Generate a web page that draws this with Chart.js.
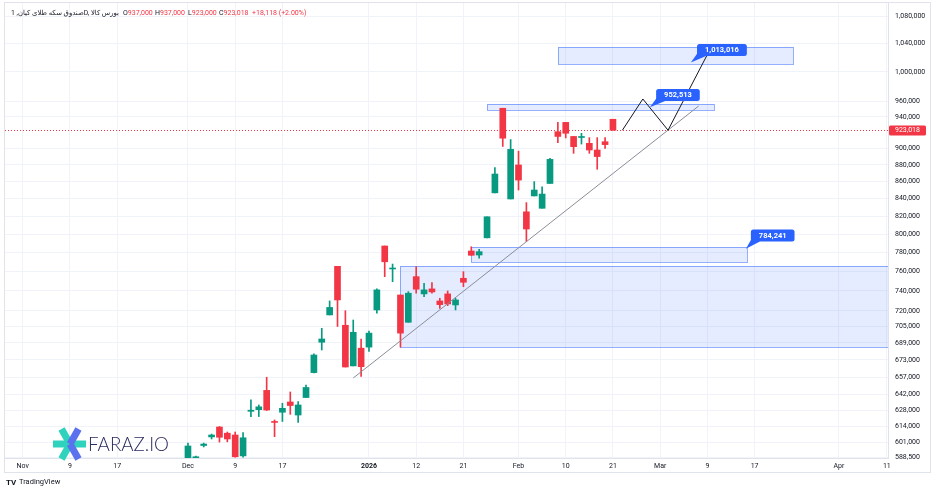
<!DOCTYPE html>
<html>
<head>
<meta charset="utf-8">
<script src="https://cdn.jsdelivr.net/npm/chart.js@4.4.1/dist/chart.umd.min.js"></script>
<style>html,body{margin:0;padding:0;background:#fff;}canvas{display:block;}</style>
</head>
<body>
<canvas id="c" width="936" height="492"></canvas>
<script>
// ---- data (daily candles, index = trading-day position) ----
const dayIndex = [0,1,2,3,4,5,6,7,8,9,10,11,12,13,14,15,16,17,18,19,20,21,22,23,24,25,26,27,28,29,30,31,32,33,34,35,36,37,38,39,40,41,42,43,44,45,46,47,48,49,50,51,52,53,54];
const openPrice = [586500,588200,598200,605300,613600,608400,606900,589700,627000,628400,645300,618300,626200,635100,623800,639000,661300,689500,715900,765400,705800,667400,683900,684900,720800,787100,762600,735800,708700,754600,736900,742000,729800,736900,725800,752900,781700,777400,796000,846800,951300,839700,879900,825000,843200,829000,857800,921100,933000,915100,913800,906500,898200,908500,937000];
const highPrice = [600200,589500,600200,607700,614000,609400,609400,609000,636900,632500,657100,619600,634000,643900,635400,650100,678500,702800,729800,765400,720100,710900,692400,700200,742000,787100,767800,735800,739200,765000,747800,748400,732500,739900,732500,759800,786300,783500,819400,876800,951300,911200,896800,835500,860000,853900,888000,933000,933000,915100,919100,913600,913600,913600,937000];
const lowPrice = [585000,587500,597000,603600,601000,601200,588600,588600,622300,622500,627700,605500,618300,624400,617600,639000,661000,682200,715900,704600,666400,667400,657800,680800,717600,754600,749400,684900,708700,737600,734100,737600,722400,725100,720800,744300,777100,774100,796000,846800,902600,839700,850100,792100,843200,829000,857800,907300,913200,894100,905600,894100,874700,900300,923000];
const closePrice = [597800,589000,599400,606900,605000,603600,589000,604600,628000,630900,628100,617500,629600,632000,632500,647900,677500,692600,723300,730800,666400,699000,666700,698200,741000,770200,763000,698200,737600,741700,741000,738900,726100,726800,730800,748800,777100,781000,819400,869000,912900,899000,861800,805700,850100,845400,886700,915100,919100,902300,914600,898200,890100,904900,923018];

const xTickPos = [-21,-15,-9,0,6,12,23,29,35,42,48,54,60,66,72,82.7,88.8];
const xTickLabels = ['Nov','9','17','Dec','9','17','2026','12','21','Feb','10','21','Mar','9','17','Apr','11'];
const yTickValues = [1080000,1040000,1000000,960000,940000,900000,880000,860000,840000,820000,800000,780000,760000,740000,720000,705000,689000,673000,657000,642000,628000,614000,601000,588500];

const lastPrice = 923018;
const prevClose = 904900;

// drawings (in index / price units)
const boxFromIdx = [27, 36, 38, 47];
const boxToIdx   = [92, 71, 66.8, 76.9];
const boxHigh    = [765700, 786000, 957000, 1034500];
const boxLow     = [685000, 770000, 949000, 1010500];

const trendIdx   = [21.0, 64.9];
const trendPrice = [656400, 954300];

const pathIdx    = [55.2, 57.8, 61.0, 65.9];
const pathPrice  = [923018, 963500, 923018, 1022200];

const calloutText      = ['1,013,016', '952,513', '784,241'];
const calloutAnchorIdx = [63.9, 58.7, 70.9];
const calloutAnchorPx  = [1013016, 952513, 784241];
const calloutLabelIdx  = [67.85, 62.26, 74.3];
const calloutLabelPx   = [1030700, 968800, 798600];

// ---- styling ----
const UP = '#089981', DOWN = '#f23645';
const FONT = 'Roboto, "DejaVu Sans", sans-serif';
const fmt = v => Number(v).toLocaleString('en-US');
const candleColor = openPrice.map((o, i) => closePrice[i] >= o ? UP : DOWN);

function rr(ctx, x, y, w, h, r) {
  ctx.beginPath();
  ctx.moveTo(x + r, y);
  ctx.lineTo(x + w - r, y); ctx.quadraticCurveTo(x + w, y, x + w, y + r);
  ctx.lineTo(x + w, y + h - r); ctx.quadraticCurveTo(x + w, y + h, x + w - r, y + h);
  ctx.lineTo(x + r, y + h); ctx.quadraticCurveTo(x, y + h, x, y + h - r);
  ctx.lineTo(x, y + r); ctx.quadraticCurveTo(x, y, x + r, y);
  ctx.closePath();
}

const overlay = {
  id: 'overlay',
  beforeDatasetsDraw(chart) {
    const {ctx, chartArea: a, scales: {x, y}} = chart;
    ctx.save();
    ctx.beginPath(); ctx.rect(a.left, a.top, a.right - a.left, a.bottom - a.top); ctx.clip();
    for (let k = 0; k < boxFromIdx.length; k++) {
      const x0 = Math.round(x.getPixelForValue(boxFromIdx[k])), x1 = Math.round(x.getPixelForValue(boxToIdx[k]));
      const y0 = Math.round(y.getPixelForValue(boxHigh[k])), y1 = Math.round(y.getPixelForValue(boxLow[k]));
      ctx.fillStyle = 'rgba(41,98,255,0.12)';
      ctx.fillRect(x0, y0, x1 - x0, y1 - y0);
      ctx.strokeStyle = 'rgba(41,98,255,0.5)';
      ctx.lineWidth = 1;
      ctx.strokeRect(x0 + 0.5, y0 + 0.5, x1 - x0, y1 - y0);
    }
    ctx.restore();
  },
  afterDatasetsDraw(chart) {
    const {ctx, chartArea: a, scales: {x, y}} = chart;
    ctx.save();
    ctx.beginPath(); ctx.rect(a.left, a.top, a.right - a.left, a.bottom - a.top); ctx.clip();
    const py = Math.round(y.getPixelForValue(lastPrice)) + 0.5;
    ctx.strokeStyle = '#f23645'; ctx.lineWidth = 1; ctx.setLineDash([1, 2]);
    ctx.beginPath(); ctx.moveTo(a.left, py); ctx.lineTo(a.right, py); ctx.stroke();
    ctx.setLineDash([]);
    ctx.strokeStyle = '#8a8d96'; ctx.lineWidth = 1;
    ctx.beginPath();
    ctx.moveTo(x.getPixelForValue(trendIdx[0]), y.getPixelForValue(trendPrice[0]));
    ctx.lineTo(x.getPixelForValue(trendIdx[1]), y.getPixelForValue(trendPrice[1]));
    ctx.stroke();
    ctx.strokeStyle = '#131722'; ctx.lineWidth = 1;
    ctx.beginPath();
    pathIdx.forEach((v, k) => {
      const px = x.getPixelForValue(v), pyy = y.getPixelForValue(pathPrice[k]);
      if (k === 0) ctx.moveTo(px, pyy); else ctx.lineTo(px, pyy);
    });
    ctx.stroke();
    ctx.font = 'bold 7.5px ' + FONT;
    calloutText.forEach((t, k) => {
      const ax = x.getPixelForValue(calloutAnchorIdx[k]), ay = y.getPixelForValue(calloutAnchorPx[k]);
      const cx = x.getPixelForValue(calloutLabelIdx[k]), cy = y.getPixelForValue(calloutLabelPx[k]);
      const w = ctx.measureText(t).width + 16, h = 12;
      const l = cx - w / 2, tp = cy - h / 2;
      ctx.fillStyle = '#2962ff';
      ctx.beginPath(); ctx.moveTo(l + 2, tp + h - 5); ctx.lineTo(l + 9, tp + h); ctx.lineTo(ax, ay); ctx.closePath(); ctx.fill();
      rr(ctx, l, tp, w, h, 2.5); ctx.fill();
      ctx.fillStyle = '#ffffff'; ctx.textAlign = 'center'; ctx.textBaseline = 'middle';
      ctx.fillText(t, cx, cy + 0.5);
    });
    ctx.restore();
  },
  afterDraw(chart) {
    const {ctx, chartArea: a, scales: {y}} = chart;
    ctx.save();
    const py = Math.round(y.getPixelForValue(lastPrice));
    ctx.fillStyle = '#f23645';
    rr(ctx, a.right + 1, py - 4.5, 37, 10, 1.5); ctx.fill();
    ctx.fillStyle = '#ffffff'; ctx.font = '7px ' + FONT; ctx.textAlign = 'left'; ctx.textBaseline = 'middle';
    ctx.fillText(fmt(lastPrice), a.right + 7, py + 0.5);

    // header legend: title pieces laid out left to right in visual order, fitted to 11..120
    ctx.textBaseline = 'middle';
    ctx.fillStyle = '#131722';
    ctx.font = '7px ' + FONT;
    const pA = 'صندوق سکه طلای کیان, 1', pB = 'D, ', pC = 'بورس کالا';
    const wA = ctx.measureText(pA).width, wB = ctx.measureText(pB).width, wC = ctx.measureText(pC).width;
    const total = wA + wB + wC;
    const sx = Math.min(1, 108 / total);
    ctx.save();
    ctx.translate(11, 13); ctx.scale(sx, 1);
    ctx.textAlign = 'left';
    ctx.direction = 'rtl'; ctx.textAlign = 'right';
    ctx.fillText(pA, wA, 0);
    ctx.direction = 'ltr'; ctx.textAlign = 'left';
    ctx.fillText(pB, wA, 0);
    ctx.fillText(pC, wA + wB, 0);
    ctx.restore();

    ctx.textAlign = 'left'; ctx.direction = 'ltr';
    const items = [['O', fmt(openPrice[54]), 123], ['H', fmt(highPrice[54]), 155], ['L', fmt(lowPrice[54]), 188], ['C', fmt(closePrice[54]), 219]];
    items.forEach(([k, v, px]) => {
      ctx.fillStyle = '#131722'; ctx.fillText(k, px, 13);
      const kw = ctx.measureText(k).width;
      ctx.fillStyle = DOWN; ctx.fillText(v, px + kw, 13);
    });
    const ch = closePrice[54] - prevClose;
    ctx.fillStyle = DOWN;
    ctx.fillText('+' + fmt(ch) + ' (+' + (ch / prevClose * 100).toFixed(2) + '%)', 252, 13);

    // watermark logo FARAZ.IO
    const cx = 70, cy = 444;
    ctx.lineCap = 'butt';
    ctx.lineWidth = 7;
    ctx.strokeStyle = '#2fd3bd';
    ctx.beginPath(); ctx.moveTo(53, cy); ctx.lineTo(86, cy); ctx.stroke();
    ctx.beginPath(); ctx.moveTo(cx, cy); ctx.lineTo(cx - 8.5, cy + 15); ctx.stroke();
    ctx.beginPath(); ctx.moveTo(cx, cy); ctx.lineTo(cx - 8.5, cy - 15); ctx.stroke();
    ctx.strokeStyle = '#5b72ee';
    ctx.beginPath(); ctx.moveTo(cx, cy); ctx.lineTo(cx + 8.5, cy - 15); ctx.stroke();
    ctx.beginPath(); ctx.moveTo(cx, cy); ctx.lineTo(cx + 8.5, cy + 15); ctx.stroke();
    ctx.fillStyle = '#2b2a5c';
    ctx.font = '300 19px Lato, ' + FONT;
    ctx.textAlign = 'left'; ctx.textBaseline = 'middle';
    ctx.fillText('FARAZ.IO', 88, 445, 81);

    ctx.strokeStyle = '#e0e3eb'; ctx.lineWidth = 1;
    ctx.strokeRect(4.5, 2.5, 926, 470);

    ctx.fillStyle = '#131722';
    ctx.font = 'bold 8px ' + FONT;
    ctx.textAlign = 'left'; ctx.textBaseline = 'middle';
    ctx.fillText('TV', 6, 482.5);
    ctx.font = '7.5px ' + FONT;
    ctx.fillText('TradingView', 19, 482.5);
    ctx.restore();
  }
};

new Chart(document.getElementById('c'), {
  type: 'bar',
  data: {
    datasets: [
      { label: 'body', data: dayIndex.map((d, i) => ({x: d, y: [openPrice[i], closePrice[i]]})),
        backgroundColor: candleColor, barThickness: 6, minBarLength: 1, grouped: false, borderWidth: 0 },
      { label: 'wick', data: dayIndex.map((d, i) => ({x: d, y: [lowPrice[i], highPrice[i]]})),
        backgroundColor: candleColor, barThickness: 1, minBarLength: 1, grouped: false, borderWidth: 0 }
    ]
  },
  options: {
    responsive: false,
    animation: false,
    events: [],
    layout: {padding: {left: 5, top: 3, right: 6, bottom: 20}},
    plugins: {legend: {display: false}, tooltip: {enabled: false}},
    scales: {
      x: {
        type: 'linear', min: -23.25, max: 88.95, offset: false, bounds: 'data',
        grid: {color: '#f0f3fa', drawTicks: false, offset: false},
        border: {color: '#e0e3eb'},
        ticks: {
          autoSkip: false, maxRotation: 0, minRotation: 0, padding: 4, color: '#131722',
          font: c => ({family: FONT, size: 7, weight: (c.tick && c.tick.label === '2026') ? 'bold' : 'normal'}),
          callback: (v, i) => xTickLabels[i]
        },
        afterBuildTicks: s => { s.ticks = xTickPos.map(v => ({value: v})); },
        afterFit: s => { s.height = 14; s.paddingLeft = 0; s.paddingRight = 0; s.paddingTop = 0; s.paddingBottom = 0; }
      },
      y: {
        type: 'logarithmic', position: 'right', min: 588000, max: 1099500, bounds: 'data',
        grid: {color: '#f0f3fa', drawTicks: false},
        border: {color: '#e0e3eb'},
        ticks: {autoSkip: false, padding: 7, color: '#131722', font: {family: FONT, size: 7}, callback: v => fmt(v)},
        afterBuildTicks: s => { s.ticks = yTickValues.map(v => ({value: v})); },
        afterFit: s => { s.width = 42; s.paddingTop = 0; s.paddingBottom = 0; s.paddingLeft = 0; s.paddingRight = 0; }
      }
    }
  },
  plugins: [overlay]
});
</script>
</body>
</html>
